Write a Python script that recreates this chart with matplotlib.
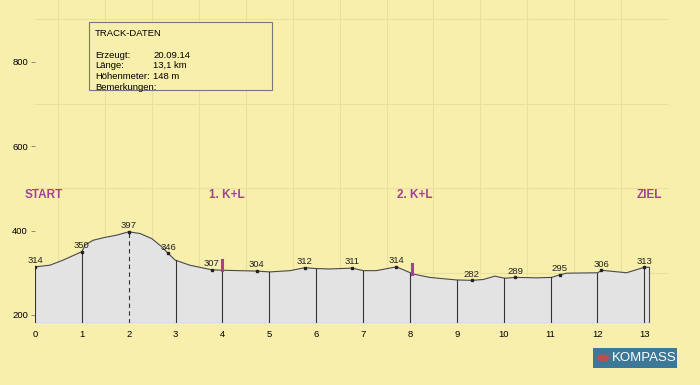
import matplotlib
matplotlib.use("Agg")
import matplotlib.pyplot as plt
from matplotlib.patches import Rectangle, Circle
import numpy as np

# ---------------- data ----------------
dist_km = [0.0, 0.32, 0.6, 1.0, 1.07, 1.24, 1.46, 1.74, 2.0, 2.24, 2.49, 2.7, 2.84,
           2.99, 3.3, 3.77, 4.0, 4.73, 5.01, 5.44, 5.76, 6.0, 6.29, 6.77, 7.0,
           7.28, 7.71, 8.07, 8.42, 8.99, 9.32, 9.56, 9.81, 10.02, 10.25, 10.7,
           11.02, 11.19, 11.34, 12.01, 12.08, 12.62, 13.0, 13.09]
elev_m = [314, 318, 330, 350, 366, 377, 383, 389, 397, 393, 381, 362, 346,
          330, 318, 307, 306, 304, 302, 305, 312, 310, 309, 311, 305,
          305, 314, 297, 289, 283, 282, 284, 292, 287, 289, 288,
          289, 295, 299, 300, 306, 300, 313, 313]

label_km = [0.0, 1.0, 2.0, 2.84, 3.77, 4.73, 5.76, 6.77, 7.71, 9.32, 10.25, 11.19, 12.08, 13.0]
label_elev = [314, 350, 397, 346, 307, 304, 312, 311, 314, 282, 289, 295, 306, 313]

km_ticks = list(range(0, 14))
y_ticks = [200, 400, 600, 800]

checkpoint_names = ["START", "1. K+L", "2. K+L", "ZIEL"]
checkpoint_km = [0.18, 4.09, 8.1, 13.11]
checkpoint_bar_km = [4.0, 8.05]

track_keys = ["Erzeugt:", "Länge:", "Höhenmeter:", "Bemerkungen:"]
track_vals = ["20.09.14", "13,1 km", "148 m", ""]

# ---------------- style ----------------
BG = "#f8efac"
GRID = "#e9df9f"
MAG = "#a3409b"
FONT = "Liberation Sans"
plt.rcParams["font.family"] = [FONT, "DejaVu Sans"]

fig = plt.figure(figsize=(7, 3.85), dpi=100, facecolor=BG)
ax = fig.add_axes([0.05, 0.161, 0.904, 0.839])
ax.set_facecolor(BG)

ymin, ymax = 181, 946
ax.set_xlim(0, 13.5)
ax.set_ylim(ymin, ymax)

# grid
ax.set_xticks([i * 0.5 for i in range(28)], minor=True)
ax.set_yticks(list(range(200, 1000, 100)), minor=True)
ax.grid(True, which="minor", color=GRID, linewidth=0.8)
ax.set_axisbelow(True)

# profile
ax.fill_between(dist_km, ymin, elev_m, color="#e3e3e3", zorder=2)
ax.plot(dist_km, elev_m, color="#4a4a4a", linewidth=0.8, zorder=3)
ax.plot([dist_km[0], dist_km[-1]], [ymin + 1, ymin + 1], color="#9a9a9a", linewidth=0.8, zorder=3)
ax.plot([dist_km[-1], dist_km[-1]], [ymin, elev_m[-1]], color="#4a4a4a", linewidth=0.8, zorder=3)

# vertical km lines
for k in km_ticks:
    top = np.interp(k, dist_km, elev_m)
    ls = (0, (4, 3)) if k == 2 else "-"
    ax.plot([k, k], [ymin, top], color="#333333", linewidth=0.8, linestyle=ls, zorder=3)

# labeled points
for k, e in zip(label_km, label_elev):
    ax.plot(k, e, marker="s", markersize=2, color="#222222", zorder=4)
    ax.text(k, e + 4, str(e), fontsize=6.8, ha="center", va="bottom", color="#222222", zorder=5)

# checkpoints
for name, k in zip(checkpoint_names, checkpoint_km):
    ax.text(k, 484, name, fontsize=8.5, fontweight="bold", color=MAG, ha="center", va="center")
for k in checkpoint_bar_km:
    base = np.interp(k, dist_km, elev_m)
    ax.plot([k, k], [base, base + 24], color=MAG, linewidth=2.2, zorder=5)

# ticks
ax.set_xticks(km_ticks)
ax.set_xticklabels([str(k) for k in km_ticks])
ax.set_yticks(y_ticks)
ax.tick_params(axis="x", which="both", length=0, pad=5, labelsize=6.8)
ax.tick_params(axis="y", which="major", length=3, width=0.6, color="#777777", pad=2, labelsize=6.8)
ax.tick_params(axis="y", which="minor", length=0)
for s in ax.spines.values():
    s.set_visible(False)

# track data box
fig.patches.append(Rectangle((89 / 700, 1 - 90 / 385), 183 / 700, 68 / 385,
                             transform=fig.transFigure, facecolor=BG,
                             edgecolor="#777777", linewidth=0.8, zorder=10))
fig.text(95 / 700, 1 - 33 / 385, "TRACK-DATEN", fontsize=6.8, va="center", zorder=11)
for i, (k, v) in enumerate(zip(track_keys, track_vals)):
    y = 1 - (55 + i * 10.7) / 385
    fig.text(95 / 700, y, k, fontsize=6.8, va="center", zorder=11)
    fig.text(153 / 700, y, v, fontsize=6.8, va="center", zorder=11)

# logo
fig.patches.append(Rectangle((593 / 700, 1 - 368 / 385), 84 / 700, 20 / 385,
                             transform=fig.transFigure, facecolor="#3d7898",
                             edgecolor="none", zorder=10))
fig.patches.append(Circle((603 / 700, 1 - 358 / 385), 6.5 / 700,
                          transform=fig.transFigure, facecolor="#b9504c",
                          edgecolor="none", zorder=11))
fig.text(612 / 700, 1 - 358 / 385, "KOMPASS", fontsize=9.5, color="white",
         va="center", ha="left", zorder=12)

fig.savefig("out.png", dpi=100, facecolor=BG)
